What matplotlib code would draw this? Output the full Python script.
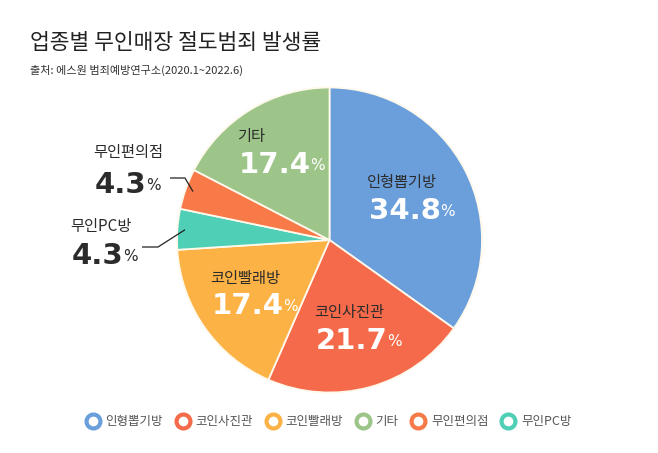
import matplotlib
matplotlib.use("Agg")
import matplotlib.pyplot as plt
from matplotlib.lines import Line2D
import numpy as np

# ---- data ----
categories = ["인형뽑기방", "코인사진관", "코인빨래방", "무인PC방", "무인편의점", "기타"]
values = [34.8, 21.7, 17.4, 4.3, 4.3, 17.4]
colors = ["#6A9FDC", "#F56A4A", "#FCB244", "#4FCFB6", "#F77A48", "#9DC589"]
legend_order = ["인형뽑기방", "코인사진관", "코인빨래방", "기타", "무인편의점", "무인PC방"]
title = "업종별 무인매장 절도범죄 발생률"
subtitle = "출처: 에스원 범죄예방연구소(2020.1~2022.6)"

plt.rcParams['font.family'] = ['Noto Sans CJK KR', 'DejaVu Sans']

W, H = 658, 453
fig = plt.figure(figsize=(W / 100, H / 100), dpi=100)
fig.patch.set_facecolor("white")

# pie axes: center (329.5, 240) px, radius 152.5 px
cx, cy, R = 329.5, 240.0, 152.5
ax = fig.add_axes([(cx - R) / W, (H - cy - R) / H, 2 * R / W, 2 * R / H])
wedges, _ = ax.pie(values, colors=colors, startangle=90, counterclock=False,
                   radius=1.0,
                   wedgeprops=dict(edgecolor="#FFF9EC", linewidth=1.3))
ax.set_xlim(-1, 1)
ax.set_ylim(-1, 1)
ax.set_aspect("equal")
ax.axis("off")

def px2d(px, py):
    return ((px - cx) / R, (cy - py) / R)

# label layout (pixel anchors: left x, name y, number y), style only
inside_layout = {
    "인형뽑기방": (367, 182, 211),
    "코인사진관": (314, 313, 341),
    "코인빨래방": (210, 279, 306),
    "기타": (237, 137, 165),
}
outside_layout = {
    "무인편의점": (93, 153, 185),
    "무인PC방": (70, 227, 256),
}
# leader lines: (end px x, elbow px x, y px) ; inner point from wedge angle
leader_layout = {
    "무인편의점": (170, 185, 178),
    "무인PC방": (142, 158, 247),
}

num_font = dict(family=['DejaVu Sans'], fontweight='heavy', fontsize=21)
name_font = dict(fontsize=11)

for cat, val, w in zip(categories, values, wedges):
    if cat in inside_layout:
        x0, yn, yv = inside_layout[cat]
        tcol, ncol = "#2b2b2b", "white"
    else:
        x0, yn, yv = outside_layout[cat]
        tcol, ncol = "#2b2b2b", "#2b2b2b"
    xd, ynd = px2d(x0, yn)
    ax.text(xd, ynd, cat, ha="left", va="center", color=tcol, **name_font)
    _, yvd = px2d(x0, yv)
    t = ax.text(xd + 0.01, yvd, f"{val:.1f}", ha="left", va="center", color=ncol,
                **num_font)
    ax.annotate("%", xy=(1, 0.2), xycoords=t, xytext=(-0.4, 0),
                textcoords="offset points", ha="left", va="bottom",
                color=ncol, fontsize=11, fontweight="medium",
                family=['DejaVu Sans'])
    if cat in leader_layout:
        ex, elx, ly = leader_layout[cat]
        mid = np.deg2rad((w.theta1 + w.theta2) / 2)
        ix, iy = 0.95 * np.cos(mid), 0.95 * np.sin(mid)
        p1 = px2d(ex, ly)
        p2 = px2d(elx, ly)
        ax.plot([p1[0], p2[0], ix], [p1[1], p2[1], iy], color="#222222",
                lw=0.9, clip_on=False, solid_capstyle="butt")

# titles
fig.text(30 / W, 1 - 43 / H, title, ha="left", va="center", fontsize=15.5,
         color="#222222")
fig.text(30 / W, 1 - 70.5 / H, subtitle, ha="left", va="center", fontsize=8,
         color="#333333", fontweight="medium")

# legend
col_of = dict(zip(categories, colors))
handles = [Line2D([0], [0], marker="o", linestyle="none", markersize=10,
                  markerfacecolor="white", markeredgecolor=col_of[c],
                  markeredgewidth=3.0) for c in legend_order]
fig.legend(handles, legend_order, loc="center", bbox_to_anchor=(0.5, 1 - 422 / H),
           ncol=6, frameon=False, fontsize=9, labelcolor="#555555",
           handlelength=1.0, handletextpad=0.5, columnspacing=1.1)

fig.savefig("out.png", dpi=100, facecolor="white")
